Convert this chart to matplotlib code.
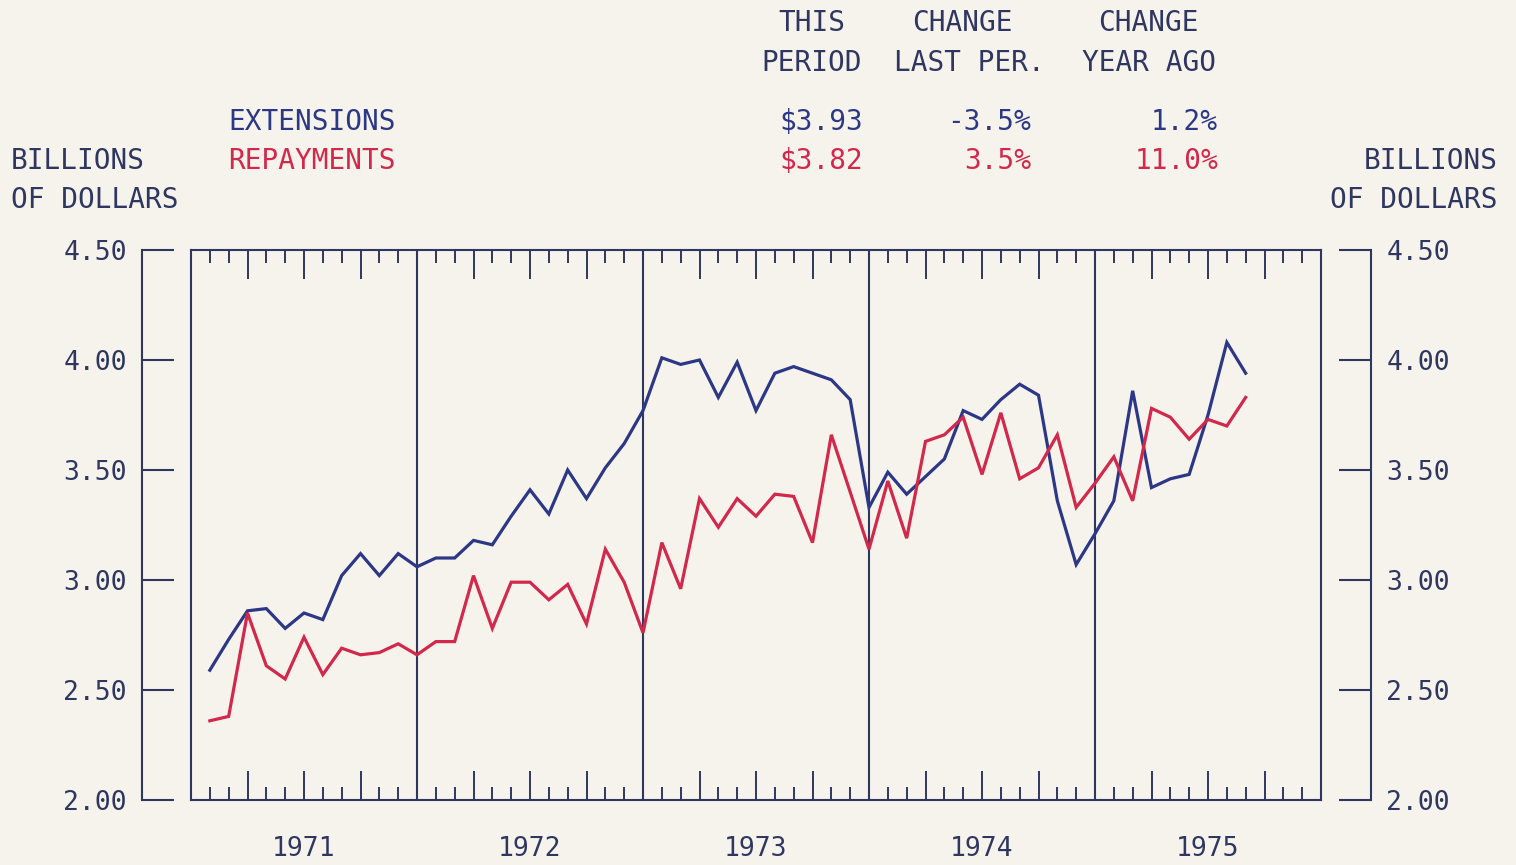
import numpy as np
import matplotlib
matplotlib.use("Agg")
import matplotlib.pyplot as plt
from matplotlib.ticker import MultipleLocator

# ---------------- data ----------------
years = ["1971", "1972", "1973", "1974", "1975"]
extensions = [2.59, 2.73, 2.86, 2.87, 2.78, 2.85, 2.82, 3.02, 3.12, 3.02, 3.12, 3.06,
              3.10, 3.10, 3.18, 3.16, 3.29, 3.41, 3.30, 3.50, 3.37, 3.51, 3.62, 3.77,
              4.01, 3.98, 4.00, 3.83, 3.99, 3.77, 3.94, 3.97, 3.94, 3.91, 3.82, 3.33,
              3.49, 3.39, 3.47, 3.55, 3.77, 3.73, 3.82, 3.89, 3.84, 3.36, 3.07, 3.21,
              3.36, 3.86, 3.42, 3.46, 3.48, 3.75, 4.08, 3.94]
repayments = [2.36, 2.38, 2.85, 2.61, 2.55, 2.74, 2.57, 2.69, 2.66, 2.67, 2.71, 2.66,
              2.72, 2.72, 3.02, 2.78, 2.99, 2.99, 2.91, 2.98, 2.80, 3.14, 2.99, 2.76,
              3.17, 2.96, 3.37, 3.24, 3.37, 3.29, 3.39, 3.38, 3.17, 3.66, 3.40, 3.14,
              3.45, 3.19, 3.63, 3.66, 3.74, 3.48, 3.76, 3.46, 3.51, 3.66, 3.33, 3.44,
              3.56, 3.36, 3.78, 3.74, 3.64, 3.73, 3.70, 3.83]
yticks = [2.00, 2.50, 3.00, 3.50, 4.00, 4.50]
series_names = ["EXTENSIONS", "REPAYMENTS"]
this_period = ["$3.93", "$3.82"]
change_last = ["-3.5%", "3.5%"]
change_year = ["1.2%", "11.0%"]

# ---------------- style ----------------
W, H = 1516, 865
BG = "#f6f3ec"
INK = "#2f3760"
BLUE = "#2c3785"
RED = "#d2284b"
FONT = "DejaVu Sans Mono"
FS = 20

fig = plt.figure(figsize=(W / 100, H / 100), dpi=100, facecolor=BG)

def fx(px):
    return px / W

def fy(py):
    return 1 - py / H

box_l, box_r, box_t, box_b = 191, 1321, 250, 800

# outer axis (left/right scales with inward stubs)
ax_o = fig.add_axes([fx(142), fy(box_b), fx(1371) - fx(142), fy(box_t) - fy(box_b)])
ax_o.set_facecolor("none")
ax_o.set_ylim(2.0, 4.5)
ax_o.set_xticks([])
for s in ["top", "bottom"]:
    ax_o.spines[s].set_visible(False)
for s in ["left", "right"]:
    ax_o.spines[s].set_color(INK)
    ax_o.spines[s].set_linewidth(1.5)
ax_o.set_yticks(yticks)
ax_o.set_yticklabels([f"{v:.2f}" for v in yticks])
ax_o.tick_params(axis="y", direction="in", length=23, width=1.5, color=INK,
                 left=True, right=True, labelleft=True, labelright=True,
                 labelsize=19, labelcolor=INK, pad=11)
for lab in ax_o.get_yticklabels():
    lab.set_family(FONT)

# inner plotting box
n = len(extensions)
xpos = np.arange(1, n + 1)
ax = fig.add_axes([fx(box_l), fy(box_b), fx(box_r) - fx(box_l), fy(box_t) - fy(box_b)])
ax.set_facecolor("none")
ax.set_xlim(0, 12 * len(years))
ax.set_ylim(2.0, 4.5)
ax.set_yticks([])
for s in ax.spines.values():
    s.set_color(INK)
    s.set_linewidth(1.5)
ax.xaxis.set_major_locator(MultipleLocator(3))
ax.xaxis.set_minor_locator(MultipleLocator(1))
ax.tick_params(axis="x", which="major", direction="in", length=21, width=1.4,
               color=INK, top=True, bottom=True, labelbottom=False)
ax.tick_params(axis="x", which="minor", direction="in", length=9.5, width=1.4,
               color=INK, top=True, bottom=True)
for k in range(1, len(years)):
    ax.axvline(12 * k, color=INK, lw=1.5)

ax.plot(xpos, extensions, color=BLUE, lw=2.3, solid_joinstyle="miter")
ax.plot(xpos, repayments, color=RED, lw=2.3, solid_joinstyle="miter")

# year labels (centred under each year, ~48 px below the box)
for k, yr in enumerate(years):
    fig.text(fx(box_l) + (fx(box_r) - fx(box_l)) * (12 * k + 6) / (12 * len(years)),
             fy(849), yr, ha="center", va="center",
             family=FONT, fontsize=19, color=INK)

# ---------------- header texts ----------------
def t(x, y, s, ha="left", color=INK):
    fig.text(fx(x), fy(y), s, ha=ha, va="center", family=FONT, fontsize=FS, color=color)

t(812, 23, "THIS", "center")
t(812, 63, "PERIOD", "center")
t(962, 23, "CHANGE", "center")
t(969, 63, "LAST PER.", "center")
t(1148, 23, "CHANGE", "center")
t(1149, 63, "YEAR AGO", "center")

colors = [BLUE, RED]
rows_y = [122, 161]
for i in range(2):
    t(228, rows_y[i], series_names[i], "left", colors[i])
    t(863, rows_y[i], this_period[i], "right", colors[i])
    t(1031, rows_y[i], change_last[i], "right", colors[i])
    t(1218, rows_y[i], change_year[i], "right", colors[i])

t(11, 161, "BILLIONS", "left")
t(11, 200, "OF DOLLARS", "left")
t(1498, 161, "BILLIONS", "right")
t(1498, 200, "OF DOLLARS", "right")

fig.savefig("out.png", dpi=100, facecolor=BG)
